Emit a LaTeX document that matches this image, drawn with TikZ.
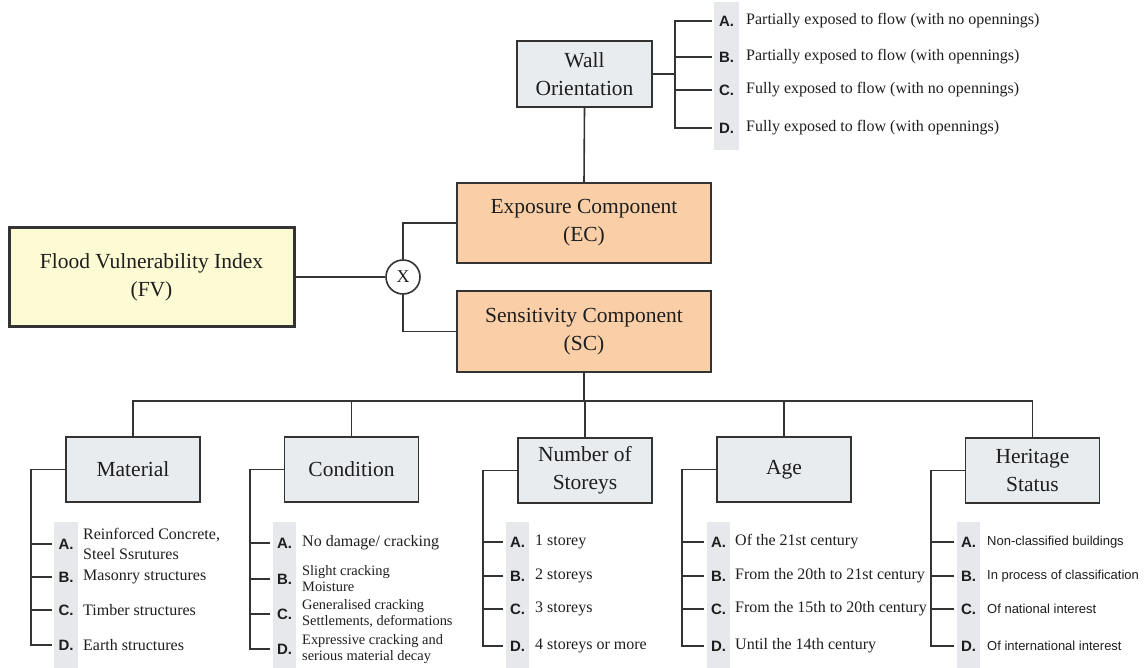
\documentclass[tikz,border=0pt]{standalone}
\usepackage{fontspec}
\setmainfont{Liberation Serif}
\newfontfamily\sansf{Liberation Sans}
\definecolor{lc}{HTML}{333333}
\definecolor{gfill}{HTML}{E9ECEF}
\definecolor{sfill}{HTML}{E6E8EB}
\definecolor{ofill}{HTML}{FACFA8}
\definecolor{yfill}{HTML}{FDFBD3}
\definecolor{tc}{HTML}{1E1E1E}
\begin{document}
\begin{tikzpicture}[x=1pt,y=-1pt,
  conn/.style={draw=lc, line width=1.6pt},
  gbox/.style={draw=lc, fill=gfill, line width=1.6pt, minimum width=134pt, minimum height=65pt, inner sep=0pt, align=center, font=\fontsize{21.5}{28}\selectfont, text=tc},
  obox/.style={gbox, fill=ofill, minimum width=254pt, minimum height=80pt},
  ltr/.style={font=\sansf\bfseries\fontsize{15}{16}\selectfont, minimum width=28pt, inner sep=0pt, text=tc},
  itm/.style={anchor=west, inner sep=0pt, align=left, font=\fontsize{16}{20}\selectfont, text=tc},
  itms/.style={itm, font=\fontsize{14.4}{16}\selectfont},
  itmh/.style={itm, font=\sansf\fontsize{13}{16}\selectfont},
  strip/.style={fill=sfill, draw=none}]
\useasboundingbox (0,0) rectangle (1145,668);
\fill[white] (0,0) rectangle (1145,668);
% strips
\path[strip] (714,2) rectangle (739,150);
\path[strip] (54,522) rectangle (78,668);
\path[strip] (273,522) rectangle (296,668);
\path[strip] (506,522) rectangle (529,668);
\path[strip] (707,522) rectangle (730,668);
\path[strip] (957,522) rectangle (980,668);
% main boxes
\node[gbox, minimum width=135pt, minimum height=66pt] (wall) at (584.5,74) {Wall\\Orientation};
\node[obox] (ec) at (584,223) {Exposure Component\\(EC)};
\node[obox, minimum height=81pt] (sc) at (584,331.5) {Sensitivity Component\\(SC)};
\node[gbox, fill=yfill, line width=3pt, minimum width=285pt, minimum height=98pt] (fv) at (151.5,277) {Flood Vulnerability Index\\(FV)};
\node[circle, draw=lc, line width=1.6pt, minimum size=34pt, inner sep=0pt, fill=white, font=\fontsize{18}{20}\selectfont, text=tc] (x) at (403,277) {X};
% bottom boxes
\node[gbox] (mat) at (133,469.5) {Material};
\node[gbox] (cond) at (351.5,469.5) {Condition};
\node[gbox] (num) at (585,470.5) {Number of\\Storeys};
\node[gbox] (age) at (784,469.5) {Age};
\node[gbox] (her) at (1032.5,470.5) {Heritage\\Status};
% wall items
\node[ltr] (wA) at (726.5,21) {A.};
\node[ltr] (wB) at (726.5,57) {B.};
\node[ltr] (wC) at (726.5,90) {C.};
\node[ltr] (wD) at (726.5,128) {D.};
\node[itm] at (746,21) {Partially exposed to flow (with no opennings)};
\node[itm] at (746,57) {Partially exposed to flow (with opennings)};
\node[itm] at (746,90) {Fully exposed to flow (with no opennings)};
\node[itm] at (746,128) {Fully exposed to flow (with opennings)};
% material items
\node[ltr] (mA) at (66,544) {A.};
\node[ltr] (mB) at (66,577) {B.};
\node[ltr] (mC) at (66,610) {C.};
\node[ltr] (mD) at (66,645) {D.};
\node[itm] at (83,544) {Reinforced Concrete,\\Steel Ssrutures};
\node[itm] at (83,577) {Masonry structures};
\node[itm] at (83,610) {Timber structures};
\node[itm] at (83,645) {Earth structures};
% condition items
\node[ltr] (cA) at (284.5,543) {A.};
\node[ltr] (cB) at (284.5,579) {B.};
\node[ltr] (cC) at (284.5,614) {C.};
\node[ltr] (cD) at (284.5,649) {D.};
\node[itm] at (302,543) {No damage/ cracking};
\node[itms] at (302,579) {Slight cracking\\Moisture};
\node[itms] at (302,614) {Generalised cracking\\Settlements, deformations};
\node[itms] at (302,649) {Expressive cracking and\\serious material decay};
% storeys items
\node[ltr] (nA) at (517.5,542) {A.};
\node[ltr] (nB) at (517.5,576) {B.};
\node[ltr] (nC) at (517.5,609) {C.};
\node[ltr] (nD) at (517.5,646) {D.};
\node[itm] at (535,542) {1 storey};
\node[itm] at (535,576) {2 storeys};
\node[itm] at (535,609) {3 storeys};
\node[itm] at (535,646) {4 storeys or more};
% age items
\node[ltr] (aA) at (718.5,542) {A.};
\node[ltr] (aB) at (718.5,576) {B.};
\node[ltr] (aC) at (718.5,609) {C.};
\node[ltr] (aD) at (718.5,646) {D.};
\node[itm] at (735,542) {Of the 21st century};
\node[itm] at (735,576) {From the 20th to 21st century};
\node[itm] at (735,609) {From the 15th to 20th century};
\node[itm] at (735,646) {Until the 14th century};
% heritage items
\node[ltr] (hA) at (968.5,542) {A.};
\node[ltr] (hB) at (968.5,576) {B.};
\node[ltr] (hC) at (968.5,609) {C.};
\node[ltr] (hD) at (968.5,646) {D.};
\node[itmh] at (987,542) {Non-classified buildings};
\node[itmh] at (987,576) {In process of classification};
\node[itmh] at (987,609) {Of national interest};
\node[itmh] at (987,646) {Of international interest};
% connectors: top
\draw[conn] (wall.south) -- (ec.north);
\draw[conn] (fv.east) -- (x.west);
\draw[conn] (x.north) |- (ec.west);
\draw[conn] (x.south) |- (sc.west);
\draw[conn] (wall.east) -- ++(22,0) coordinate (wt);
\draw[conn] (wA.west) -| (wt) |- (wD.west);
\draw[conn] (wB.west) -- (wB.west -| wt);
\draw[conn] (wC.west) -- (wC.west -| wt);
% sensitivity tree
\draw[conn] (sc.south) -- ++(0,28) coordinate (bar);
\draw[conn] (mat.north) |- (bar) -| (her.north);
\draw[conn] (cond.north) -- (cond.north |- bar);
\draw[conn] (num.north) -- (num.north |- bar);
\draw[conn] (age.north) -- (age.north |- bar);
% brackets
\foreach \b/\p in {mat/m, cond/c, num/n, age/a, her/h}{
  \draw[conn] (\b.west) -- ++(-34,0) coordinate (\p t) |- (\p D.west);
  \draw[conn] (\p A.west) -- (\p A.west -| \p t);
  \draw[conn] (\p B.west) -- (\p B.west -| \p t);
  \draw[conn] (\p C.west) -- (\p C.west -| \p t);
}
\end{tikzpicture}
\end{document}
